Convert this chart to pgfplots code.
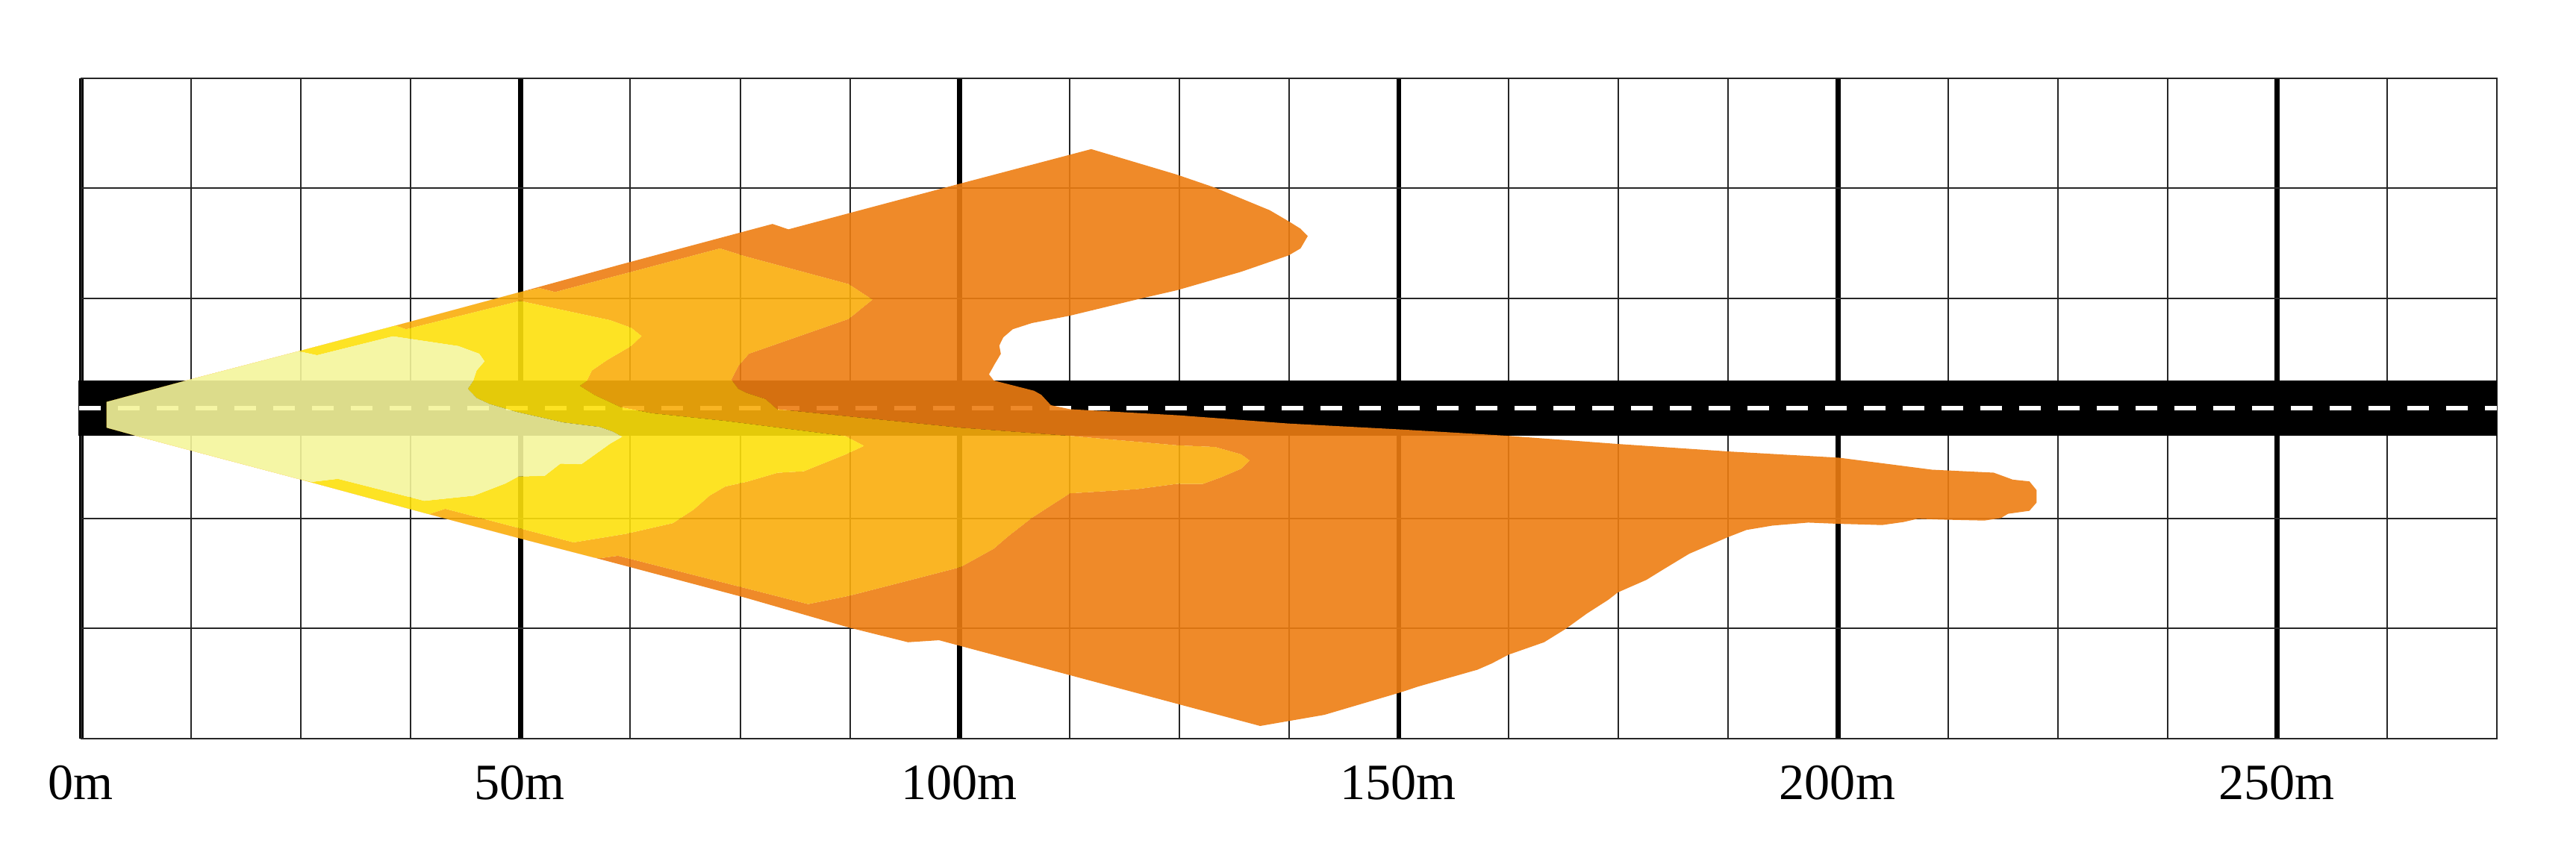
\documentclass[border=0pt]{standalone}
\usepackage{fontspec}
\setmainfont{Liberation Serif}
\usepackage{pgfplots}
\pgfplotsset{compat=1.18}

\definecolor{lightzone}{RGB}{244,245,155}
\definecolor{yellowzone}{RGB}{253,224,12}
\definecolor{amberzone}{RGB}{249,173,12}
\definecolor{orangezone}{RGB}{237,125,18}

\begin{document}
\begin{tikzpicture}
\begin{axis}[
    at={(0,0)}, anchor=south west,
    scale only axis,
    width=32.36cm, height=8.85cm,
    xmin=0, xmax=275, ymin=-37.5, ymax=37.5,
    clip=false,
    unbounded coords=jump,
    xtick={0,50,...,250},
    xticklabels={0m,50m,100m,150m,200m,250m},
    minor xtick={12.5,25,37.5,62.5,75,87.5,112.5,125,137.5,162.5,175,187.5,212.5,225,237.5,262.5},
    ytick={-25,-12.5,0,12.5,25},
    yticklabels={},
    xmajorgrids=true, xminorgrids=true, ymajorgrids=true,
    major x grid style={black, line width=.067cm},
    minor x grid style={black!85, line width=.02cm},
    major y grid style={black!85, line width=.02cm},
    axis line style={black!85, line width=.02cm},
    tick style={draw=none},
    major tick length=0pt, minor tick length=0pt,
    xticklabel style={font=\fontsize{19.4}{22}\selectfont, xshift=-.01cm, yshift=-.24cm},
    zone/.style={draw=none, even odd rule, opacity=.9, fill=#1},
]
% road
\addplot[fill=black, draw=none] coordinates {(-0.3,3.18) (275,3.18) (275,-3.08) (-0.3,-3.08)};
\addplot[white, line width=.067cm, dash pattern=on .29cm off .2298cm] coordinates {(-0.25,0.03) (275,0.03)};

% outer zone, with the second zone cut out
\addplot[zone=orangezone] table {
2.87 0.74
11.93 3.17
24.74 6.50
35.77 9.41
49.95 13.22
61.39 16.35
78.68 20.96
80.5 20.35
100.08 25.55
114.97 29.46
124.7 26.57
129.06 25.08
135.29 22.52
137.45 21.26
138.8 20.42
139.62 19.58
138.8 18.18
137.45 17.39
132.04 15.53
124.73 13.43
120.66 12.5
112.54 10.54
108.2 9.7
106.03 9.0
104.95 8.07
104.5 7.14
104.68 6.21
103.98 5.04
103.33 3.88
103.87 3.18
108.47 2.01
109.29 1.55
110.37 0.38
112.54 -0.08
125 -0.78
137.45 -1.71
150.2 -2.38
162.35 -3.1
174.92 -4.03
187.49 -4.88
200.11 -5.59
206.34 -6.39
210.67 -6.95
217.72 -7.29
219.88 -8.08
221.78 -8.28
222.59 -9.27
222.59 -10.69
221.78 -11.62
219.34 -11.96
218.53 -12.45
216.63 -12.73
211.76 -12.62
209.05 -12.53
207.42 -12.9
204.99 -13.24
203.09 -13.18
200.11 -13.1
196.59 -12.96
192.53 -13.3
189.55 -13.8
187.49 -14.6
183.05 -16.5
180.07 -18.3
178.17 -19.47
174.92 -20.89
173.84 -21.73
171.4 -23.29
168.96 -25.05
166.53 -26.55
162.46 -27.97
160.57 -28.96
158.94 -29.67
152.17 -31.59
150.2 -32.24
141.5 -34.8
134.2 -36.06
97.64 -26.32
94.12 -26.55
87.35 -24.87
75.7 -21.52
58.4 -16.94
49.95 -14.76
41.43 -12.5
37.56 -11.46
24.74 -8
12.23 -4.7
6.39 -3.14
2.87 -2.17
nan nan
2.87 0.74
11.93 3.17
24.74 6.50
35.77 9.41
49.95 13.22
52.16 13.68
53.94 13.23
72.71 18.18
75.7 17.25
87.35 14.13
90.06 12.36
87.35 10.17
76 6.22
74.8 4.83
74 3.27
74.8 2.23
75.7 1.78
77.87 1.08
79.2 -0.08
100.08 -2.18
112.54 -3.11
124.73 -4.18
129.06 -4.37
132.04 -5.21
133.01 -5.91
132.04 -6.84
129.87 -7.77
127.7 -8.56
124.73 -8.56
120.12 -9.17
112.54 -9.64
110.37 -11.03
108.2 -12.43
105.5 -14.53
103.87 -15.93
100.08 -18.02
94.66 -19.42
87.35 -21.29
82.74 -22.22
61.1 -16.73
59.01 -17.01
58.4 -16.94
49.95 -14.76
41.43 -12.5
37.56 -11.46
24.74 -8
12.23 -4.7
6.39 -3.14
2.87 -2.17
};
% second zone, with the third cut out
\addplot[zone=amberzone] table {
2.87 0.74
11.93 3.17
24.74 6.50
35.77 9.41
49.95 13.22
52.16 13.68
53.94 13.23
72.71 18.18
75.7 17.25
87.35 14.13
90.06 12.36
87.35 10.17
76 6.22
74.8 4.83
74 3.27
74.8 2.23
75.7 1.78
77.87 1.08
79.2 -0.08
100.08 -2.18
112.54 -3.11
124.73 -4.18
129.06 -4.37
132.04 -5.21
133.01 -5.91
132.04 -6.84
129.87 -7.77
127.7 -8.56
124.73 -8.56
120.12 -9.17
112.54 -9.64
110.37 -11.03
108.2 -12.43
105.5 -14.53
103.87 -15.93
100.08 -18.02
94.66 -19.42
87.35 -21.29
82.74 -22.22
61.1 -16.73
59.01 -17.01
58.4 -16.94
49.95 -14.76
41.43 -12.5
37.56 -11.46
24.74 -8
12.23 -4.7
6.39 -3.14
2.87 -2.17
nan nan
2.87 0.74
11.93 3.17
24.74 6.50
35.77 9.41
36.96 9.0
49.95 12.22
60.2 10.03
62.59 9.17
63.78 8.23
62.59 7.09
59.9 5.53
58.12 4.31
57.52 3.1
56.75 2.58
58.41 1.54
61.39 0.15
64.97 -0.54
73.31 -1.41
87 -3.14
89.1 -4.25
87 -5.22
82.25 -7.13
79.27 -7.3
75.7 -8.34
73.31 -8.86
71.52 -9.9
69.74 -11.46
67.35 -13.02
61.99 -14.24
56.03 -15.21
41.43 -11.39
39.6 -12
37.56 -11.46
24.74 -8
12.23 -4.7
6.39 -3.14
2.87 -2.17
};
% third zone, with the inner one cut out
\addplot[zone=yellowzone] table {
2.87 0.74
11.93 3.17
24.74 6.50
35.77 9.41
36.96 9.0
49.95 12.22
60.2 10.03
62.59 9.17
63.78 8.23
62.59 7.09
59.9 5.53
58.12 4.31
57.52 3.1
56.75 2.58
58.41 1.54
61.39 0.15
64.97 -0.54
73.31 -1.41
87 -3.14
89.1 -4.25
87 -5.22
82.25 -7.13
79.27 -7.3
75.7 -8.34
73.31 -8.86
71.52 -9.9
69.74 -11.46
67.35 -13.02
61.99 -14.24
56.03 -15.21
41.43 -11.39
39.6 -12
37.56 -11.46
24.74 -8
12.23 -4.7
6.39 -3.14
2.87 -2.17
nan nan
2.87 0.74
11.93 3.17
24.74 6.50
26.83 6.05
35.47 8.2
42.92 7.09
45.3 6.22
45.9 5.36
45 4.31
44.59 3.1
44 2.23
45 1.19
46.5 0.5
49.47 -0.37
54.84 -1.58
59.01 -2.1
60.5 -2.62
61.57 -3.21
60.2 -4
56.93 -6.33
54.54 -6.26
52.75 -7.65
49.77 -7.72
48.28 -8.52
44.7 -9.9
39.05 -10.49
29.21 -7.99
26.23 -8.34
24.74 -8
12.23 -4.7
6.39 -3.14
2.87 -2.17
};
% inner zone
\addplot[zone=lightzone] table {
2.87 0.74
11.93 3.17
24.74 6.50
26.83 6.05
35.47 8.2
42.92 7.09
45.3 6.22
45.9 5.36
45 4.31
44.59 3.1
44 2.23
45 1.19
46.5 0.5
49.47 -0.37
54.84 -1.58
59.01 -2.1
60.5 -2.62
61.57 -3.21
60.2 -4
56.93 -6.33
54.54 -6.26
52.75 -7.65
49.77 -7.72
48.28 -8.52
44.7 -9.9
39.05 -10.49
29.21 -7.99
26.23 -8.34
24.74 -8
12.23 -4.7
6.39 -3.14
2.87 -2.17
};
\end{axis}
% room round the axis, as in the reference
\path (-1.09,-1.68) rectangle (33.42,9.90);
\end{tikzpicture}
\end{document}
